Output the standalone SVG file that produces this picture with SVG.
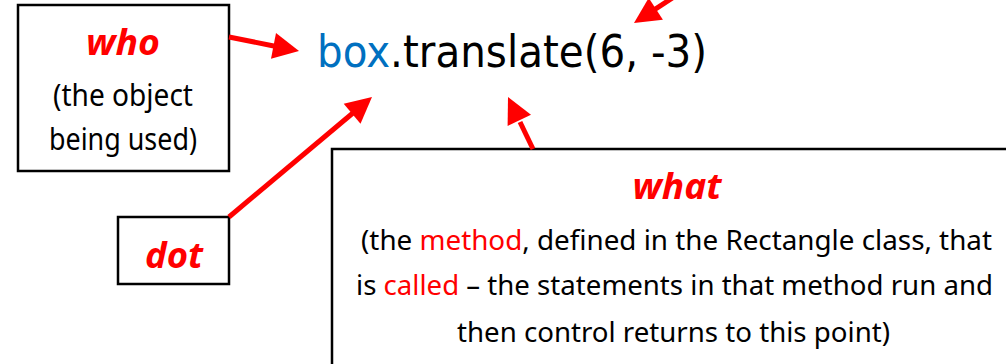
<svg xmlns="http://www.w3.org/2000/svg" width="1006" height="364" viewBox="0 0 1006 364">
<style>
.box{fill:#fff;stroke:#000;stroke-width:2.5}
.head{font-family:"Noto Sans","Liberation Sans",sans-serif;font-weight:bold;font-style:italic;fill:#ff0000;font-size:35px;text-anchor:middle}
.body{font-family:"Noto Sans","Liberation Sans",sans-serif;font-size:30px;fill:#000;text-anchor:middle}
.wb{font-size:28px}
.red{fill:#ff0000}
.code{font-family:"DejaVu Sans","Liberation Sans",sans-serif;font-size:44px;fill:#000}
.ln{stroke:#ff0000;stroke-width:5;fill:none}
.ah{fill:#ff0000;stroke:none}
</style>
<rect width="1006" height="364" fill="#fff"/>
<g id="code">
<text class="code" x="317" y="67" textLength="390" lengthAdjust="spacingAndGlyphs"><tspan fill="#0070c0">box</tspan>.translate(6, -3)</text>
</g>
<g id="who">
<rect class="box" x="18" y="5" width="211" height="166"/>
<text class="head" x="123" y="55" textLength="74" lengthAdjust="spacingAndGlyphs">who</text>
<text class="body" x="123" y="106" textLength="140" lengthAdjust="spacingAndGlyphs">(the object</text>
<text class="body" x="123" y="150" textLength="148" lengthAdjust="spacingAndGlyphs">being used)</text>
</g>
<g id="dot">
<rect class="box" x="118" y="217" width="111" height="67"/>
<text class="head" x="174" y="268" textLength="58" lengthAdjust="spacingAndGlyphs">dot</text>
</g>
<g id="what">
<rect class="box" x="332" y="149" width="700" height="260"/>
<text class="head" x="677" y="199" textLength="89" lengthAdjust="spacingAndGlyphs">what</text>
<text class="body wb" x="676.5" y="250" textLength="631" lengthAdjust="spacingAndGlyphs">(the <tspan class="red">method</tspan>, defined in the Rectangle class, that</text>
<text class="body wb" x="674.5" y="295" textLength="637" lengthAdjust="spacingAndGlyphs">is <tspan class="red">called</tspan> – the statements in that method run and</text>
<text class="body wb" x="673.5" y="342" textLength="433" lengthAdjust="spacingAndGlyphs">then control returns to this point)</text>
</g>
<g id="connectors">
<line class="ln" x1="229" y1="37" x2="275" y2="46.2"/>
<polygon class="ah" points="299,51 271,58.7 276,33.1"/>
<line class="ln" x1="229" y1="217" x2="353.5" y2="112.5"/>
<polygon class="ah" points="372,97 360.5,123.7 343.7,103.7"/>
<line class="ln" x1="533" y1="149" x2="520" y2="122"/>
<polygon class="ah" points="508,97 531,114.8 507.6,126"/>
<line class="ln" x1="700" y1="-20" x2="654.5" y2="9.6"/>
<polygon class="ah" points="634,23 662.9,19.7 648.7,-2.1"/>
</g>
</svg>
